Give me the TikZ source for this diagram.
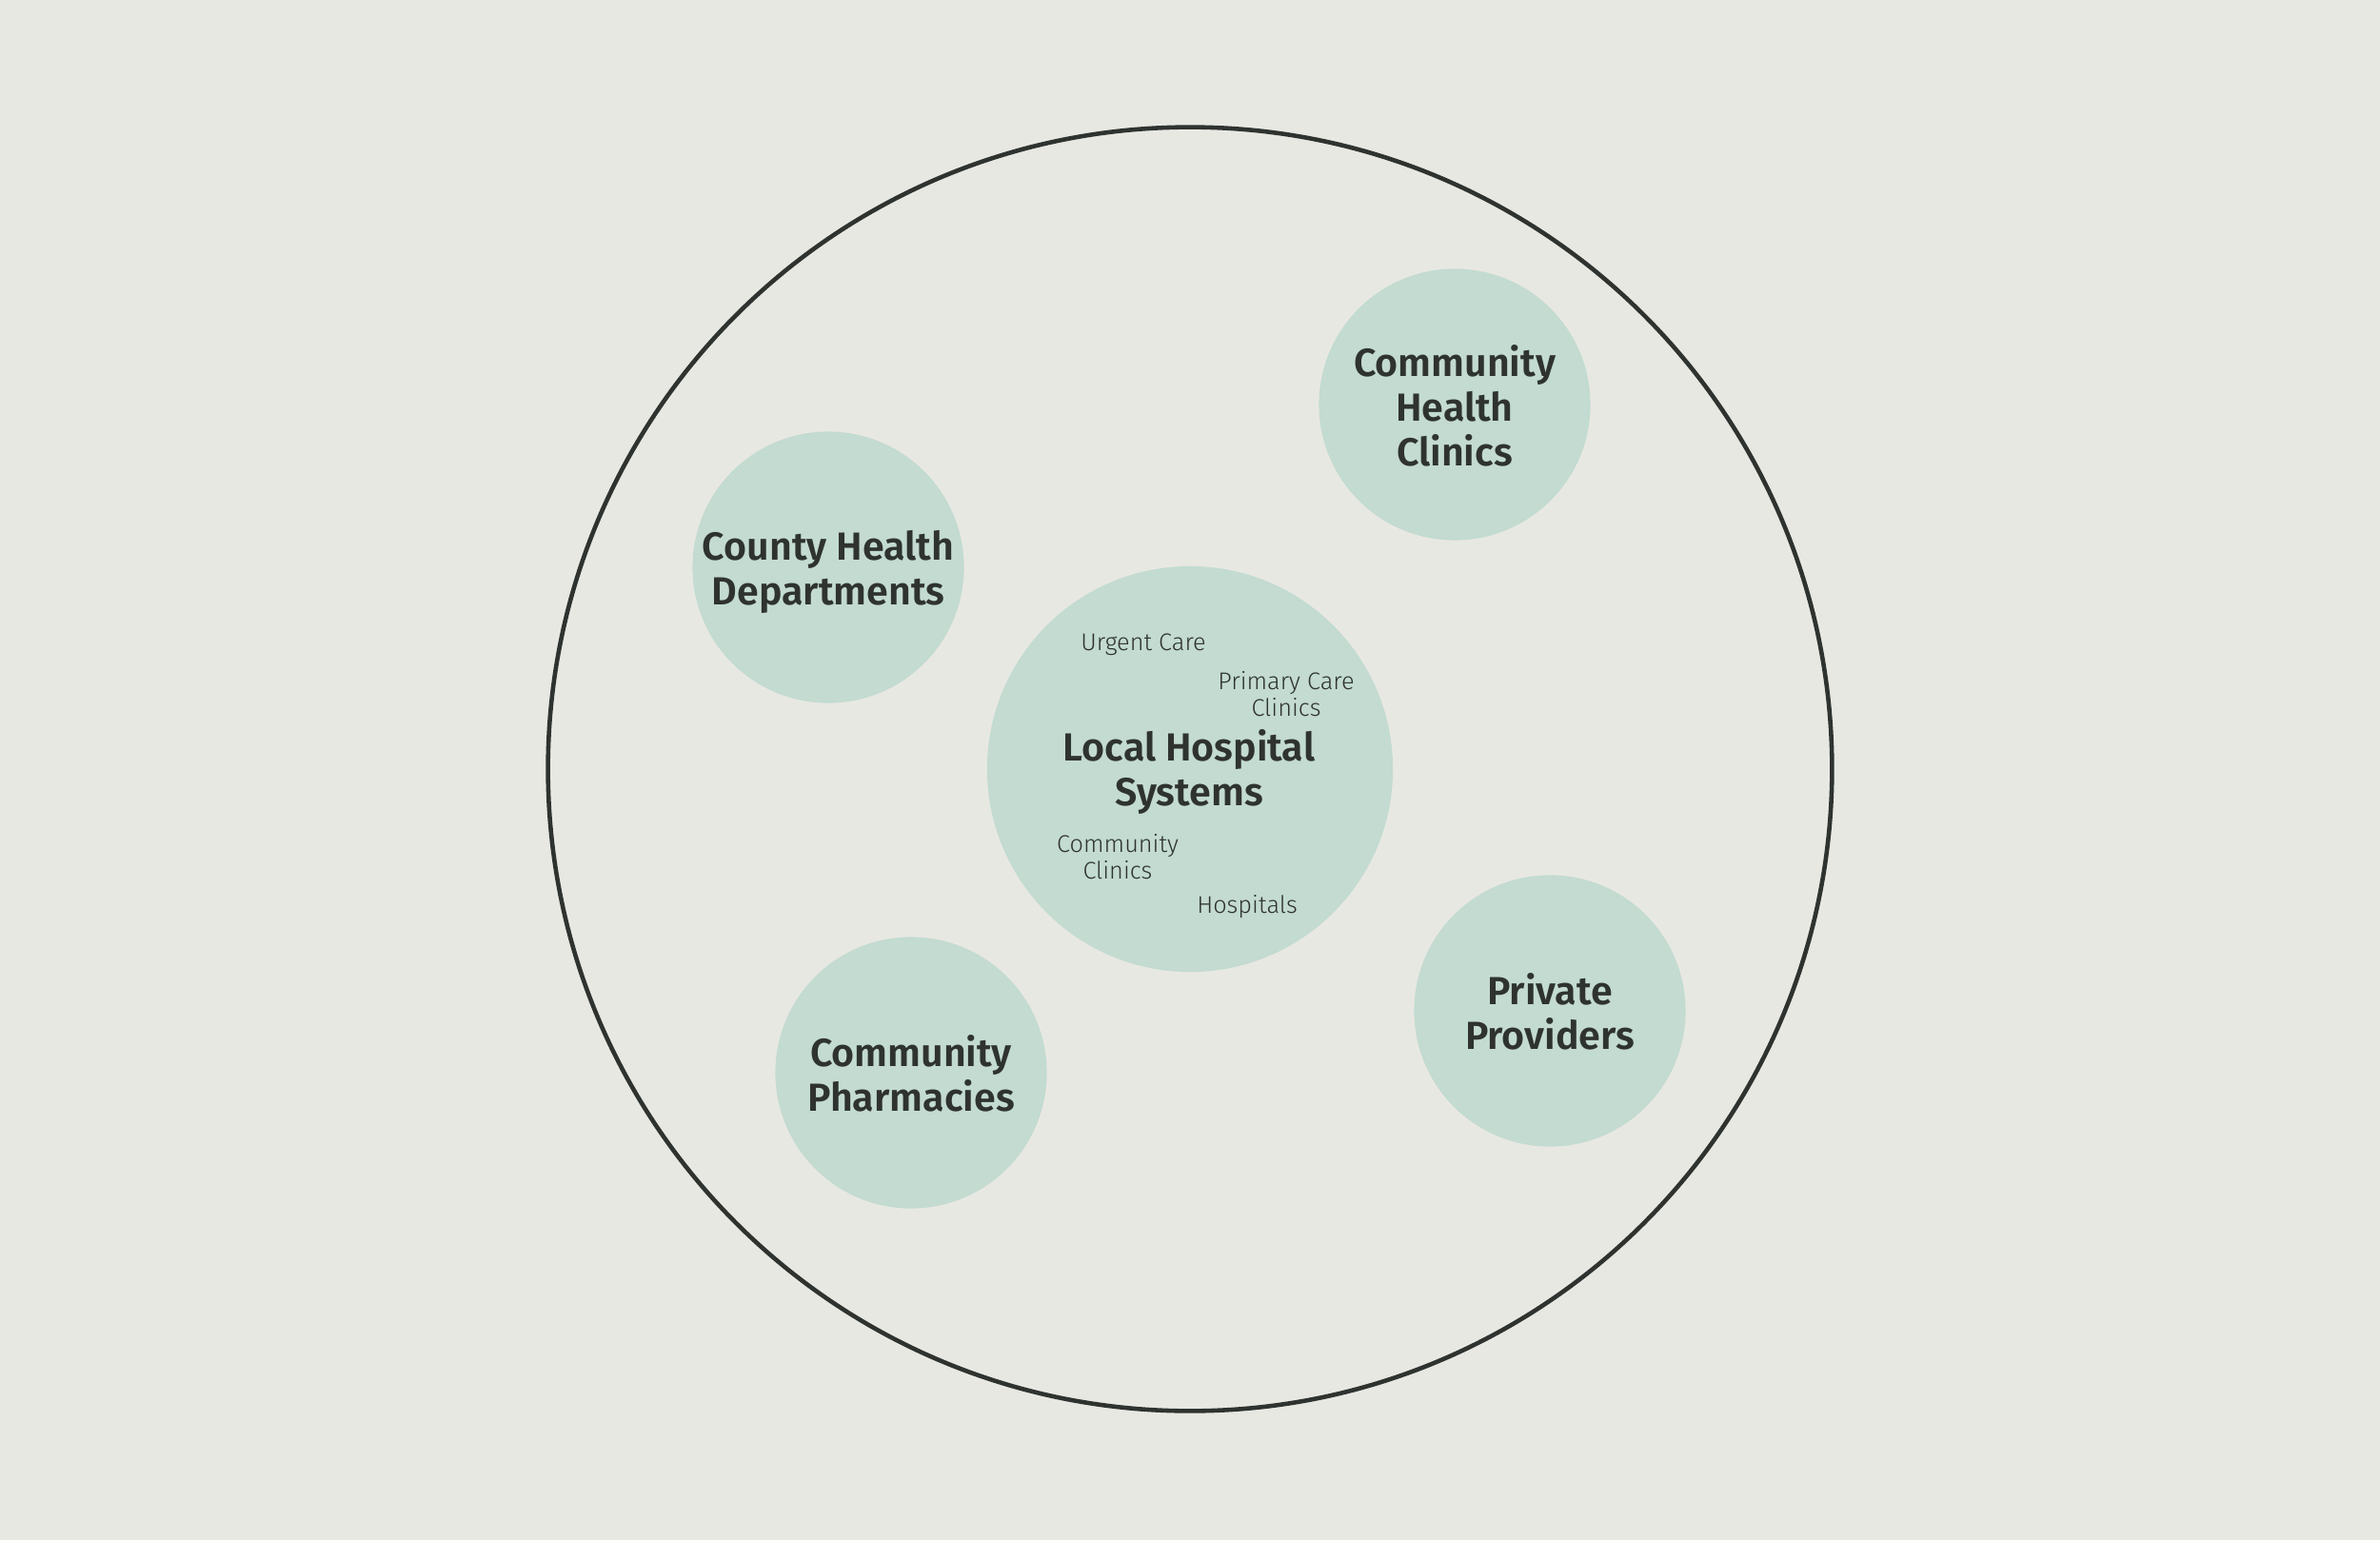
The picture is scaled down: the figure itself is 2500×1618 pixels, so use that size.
\documentclass[tikz,border=0pt]{standalone}
\usepackage{fontspec}
\setmainfont{Fira Sans}[BoldFont={Fira Sans SemiBold}]
\newfontfamily\leicht{Fira Sans Light}
\usepackage{xcolor}
\usepackage{tikz}
\usetikzlibrary{positioning}
\definecolor{paper}{HTML}{E8E8E3}
\definecolor{sage}{HTML}{C3DBD0}
\definecolor{ink}{HTML}{2F3330}
\tikzset{
    ring/.style    = {draw=ink, line width=1.3pt, circle, inner sep=0pt, minimum size=13.48cm},
    bubble/.style  = {circle, fill=sage, inner sep=0pt, minimum size=2.85cm},
    hub/.style     = {bubble, minimum size=4.26cm},
    titel/.style   = {align=center, text=ink, font=\fontsize{11.7}{13.4}\selectfont\bfseries},
    sub/.style     = {align=center, text=ink, font=\fontsize{7.2}{8}\selectfont\leicht}
}
\begin{document}
\begin{tikzpicture}[x=0.01cm, y=-0.01cm]
        \fill[paper] (0,0) rectangle (2500,1618);
        \useasboundingbox (0,0) rectangle (2500,1618);

        % --- outer ring ---
        \node[ring] (reg) at (1250,808) {};

        % --- hospital systems ---
        \node[hub] (lhs) at (1250,808) {};
        \node[titel] (lhst) at (1249,811) {Local Hospital\\Systems};
        \node[sub] (uc)   at (1201,677) {Urgent Care};
        \node[sub] (pcc)  at (1351,729) {Primary Care\\Clinics};
        \node[sub] (cc)   at (1174,900) {Community\\Clinics};
        \node[sub] (hosp) at (1310,953) {Hospitals};

        % --- partners ---
        \node[bubble] (chd) at (870,596)   {};
        \node[bubble] (chc) at (1528,425)  {};
        \node[bubble] (cph) at (957,1127)  {};
        \node[bubble] (ppr) at (1628,1062) {};
        \node[titel] at ([yshift=-0.05cm]chd) {County Health\\Departments};
        \node[titel] at ([yshift=-0.01cm]chc) {Community\\Health\\Clinics};
        \node[titel] at ([yshift=-0.01cm]cph) {Community\\Pharmacies};
        \node[titel] at ([yshift=-0.01cm]ppr) {Private\\Providers};
    \end{tikzpicture}
\end{document}
